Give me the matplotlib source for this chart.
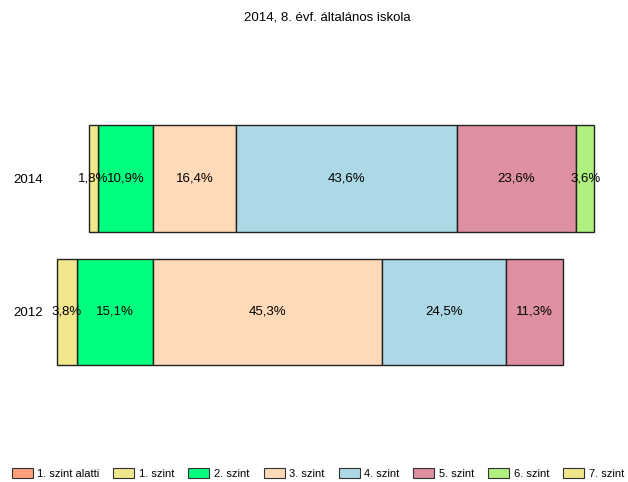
import numpy as np
import matplotlib.pyplot as plt
from matplotlib.patches import Patch

plt.rcParams['font.family'] = ['Liberation Sans', 'DejaVu Sans']

# adatok
levels = ['1. szint alatti', '1. szint', '2. szint', '3. szint',
          '4. szint', '5. szint', '6. szint', '7. szint']
years = ['2012', '2014']
vals_2012 = [0, 3.8, 15.1, 45.3, 24.5, 11.3, 0, 0]
vals_2014 = [0, 1.8, 10.9, 16.4, 43.6, 23.6, 3.6, 0]
colors = ['#FFA07A', '#F0E68C', '#00FF7F', '#FFDAB9',
          '#ADD8E6', '#DE8FA0', '#B0F080', '#F0E68C']
n_neg = 3  # 1. szint alatti .. 2. szint a nulla bal oldalán

fig = plt.figure(figsize=(6.28, 4.82), dpi=100)
ax = fig.add_axes([48 / 628, 1 - 392.1 / 482, 572 / 628, 293.7 / 482])

for yi, vals in enumerate([vals_2012, vals_2014]):
    # bal oldal: a 2. szinttől kifelé
    pos = 0.0
    for i in range(n_neg - 1, -1, -1):
        v = vals[i]
        if v > 0:
            ax.barh(yi, v, left=pos - v, height=0.8, color=colors[i],
                    edgecolor='#222222', linewidth=1)
            ax.text(pos - v / 2, yi, f'{v:.1f}%'.replace('.', ','),
                    ha='center', va='center', fontsize=9.5)
        pos -= v
    # jobb oldal
    pos = 0.0
    for i in range(n_neg, len(levels)):
        v = vals[i]
        if v > 0:
            ax.barh(yi, v, left=pos, height=0.8, color=colors[i],
                    edgecolor='#222222', linewidth=1)
            ax.text(pos + v / 2, yi, f'{v:.1f}%'.replace('.', ','),
                    ha='center', va='center', fontsize=9.5)
        pos += v

ax.set_xlim(-20.75, 92.29)
ax.set_ylim(-0.6, 1.6)
ax.set_yticks(range(len(years)))
ax.set_yticklabels(years, fontsize=9.5)
ax.tick_params(axis='y', length=0, pad=4)
ax.set_xticks([])
for s in ax.spines.values():
    s.set_visible(False)

fig.text(327 / 628, 1 - 17 / 482, '2014, 8. évf. általános iskola',
         ha='center', va='center', fontsize=9.5)

handles = [Patch(facecolor=c, edgecolor='#333333', linewidth=0.8) for c in colors]
fig.legend(handles, levels, ncol=8, loc='center left',
           bbox_to_anchor=(11.5 / 628, 1 - 473.5 / 482), frameon=False,
           fontsize=8, borderpad=0, borderaxespad=0,
           handlelength=1.89, handleheight=0.96, handletextpad=0.42,
           columnspacing=1.26)

fig.savefig('out.png', dpi=100)
